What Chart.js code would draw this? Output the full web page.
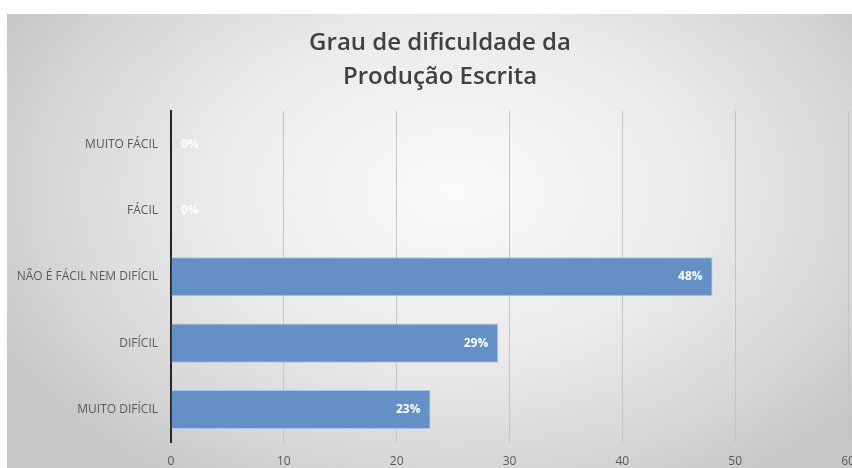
<!DOCTYPE html>
<html>
<head>
<meta charset="utf-8">
<script src="https://cdn.jsdelivr.net/npm/chart.js@4.4.1/dist/chart.umd.min.js"></script>
<style>
  html, body { margin: 0; padding: 0; background: #ffffff; overflow: hidden; width: 852px; height: 468px; }
  #wrap {
    position: absolute; left: 7px; top: 14px; width: 860px; height: 467px;
    background: radial-gradient(ellipse 60% 75% at 52% 38%, #fbfbfb 0%, #ececec 45%, #d6d6d6 80%, #c6c6c6 100%);
  }
</style>
</head>
<body>
<div id="wrap"><canvas id="chart"></canvas></div>
<script>
// DATA //
const categories = ['MUITO FÁCIL', 'FÁCIL', 'NÃO É FÁCIL NEM DIFÍCIL', 'DIFÍCIL', 'MUITO DIFÍCIL'];
const values = [0, 0, 48, 29, 23];
const xTicks = [0, 10, 20, 30, 40, 50, 60];
const titleLines = ['Grau de dificuldade da', 'Produção Escrita'];

// TITLE (centred on the panel, not on the chart box) //
const titleText = {
    id: 'titleText',
    afterDraw(chart) {
        const ctx = chart.ctx;
        ctx.save();
        ctx.font = '600 24px "Open Sans"';
        ctx.fillStyle = '#404040';
        ctx.textAlign = 'center';
        ctx.textBaseline = 'middle';
        titleLines.forEach((line, i) => {
            ctx.fillText(line, 433, 29 + i * 34);
        });
        ctx.restore();
    }
};

// LABELS INSIDE THE BARS //
const barLabels = {
    id: 'barLabels',
    afterDatasetsDraw(chart) {
        const ctx = chart.ctx;
        const meta = chart.getDatasetMeta(0);
        ctx.save();
        ctx.font = 'bold 12px "Open Sans"';
        ctx.fillStyle = '#ffffff';
        ctx.textBaseline = 'middle';
        meta.data.forEach((bar, i) => {
            const text = values[i] + '%';
            const w = ctx.measureText(text).width;
            if (bar.x - bar.base > w + 14) {
                ctx.textAlign = 'right';
                ctx.fillText(text, bar.x - 10, bar.y);
            } else {
                ctx.textAlign = 'left';
                ctx.fillText(text, bar.base + 10, bar.y);
            }
        });
        ctx.restore();
    }
};

const chartCanvas = document.getElementById('chart');

const chartData = {
    labels: categories,
    datasets: [{
        data: values,
        backgroundColor: '#6490c5',
        borderColor: '#a9c5e8',
        borderWidth: 1,
        barPercentage: 0.59,
        categoryPercentage: 1
    }]
};

const chartOptions = {
    indexAxis: 'y',
    responsive: true,
    maintainAspectRatio: false,
    animation: false,
    layout: {
        padding: { left: 0, right: 19, top: 97, bottom: 0 }
    },
    scales: {
        x: {
            min: 0,
            max: 60,
            afterBuildTicks: (axis) => { axis.ticks = xTicks.map(v => ({ value: v })); },
            grid: { color: '#c4c4c4', drawTicks: false },
            border: { display: false },
            ticks: { color: '#595959', font: { family: 'Open Sans', size: 12 }, padding: 12, maxRotation: 0 }
        },
        y: {
            afterFit: (axis) => { axis.width = 164; },
            grid: { display: false, drawTicks: false },
            border: { color: '#262626', width: 2 },
            ticks: { color: '#595959', font: { family: 'Open Sans', size: 12 }, padding: 13 }
        }
    },
    plugins: {
        legend: { display: false },
        tooltip: { enabled: false },
        title: { display: false }
    }
};

const mainChart = new Chart(chartCanvas, {
    type: 'bar',
    data: chartData,
    options: chartOptions,
    plugins: [titleText, barLabels]
});
</script>
</body>
</html>
